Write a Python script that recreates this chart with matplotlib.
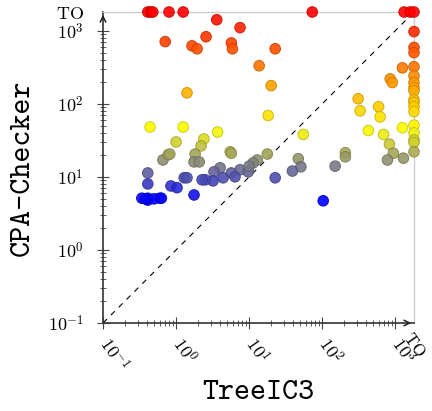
import numpy as np
import matplotlib
matplotlib.use("Agg")
import matplotlib.pyplot as plt
from matplotlib.colors import LinearSegmentedColormap, LogNorm

plt.rcParams['mathtext.fontset'] = 'cm'

TO = 1800.0

# TreeIC3 runtime (x) and CPA-Checker runtime (y); TO = timeout
treeic3 = [
    # timeouts of CPA-Checker
    0.41, 0.45, 0.48, 0.80, 1.25, 73, 1320, 1600, TO,
    # high (red/orange)
    0.71, 1.65, 1.94, 2.57, 3.6, 7.5, 5.7, 5.9, 22.7, 13.7, 20, 1.41,
    1250, 850, 910, 310, 330, 590, 620,
    # timeouts of TreeIC3
    TO, TO, TO, TO, TO, TO, TO, TO, TO, TO, TO, TO, TO, TO, TO, TO, TO,
    # yellow
    0.44, 1.25, 1.0, 2.4, 2.2, 3.7, 18.2, 55, 427, 690, 1250, 830,
    # olive
    0.66, 0.78, 0.82, 1.82, 1.76, 2.07, 5.5, 5.7, 17.7, 12.9, 11.3, 47, 51,
    207, 207, 940, 780, 1290, 150,
    # gray / slate
    0.41, 4.0, 3.3, 7.5, 9.7, 10, 39, 5.7, 6.4, 4.4, 3.2, 22.7, 2.5, 2.27,
    1.29, 1.41,
    # blue
    0.41, 0.85, 1.03, 1.76, 0.34, 0.41, 0.41, 0.60, 0.50, 0.38, 0.63, 103,
]
cpachecker = [
    TO, TO, TO, TO, TO, TO, TO, TO, TO,
    708, 620, 565, 825, 1410, 1100, 680, 565, 565, 331, 177, 141,
    310, 219, 195, 117, 80, 91, 66,
    970, 590, 500, 321, 240, 195, 166, 150, 113, 104, 91, 78, 51, 40, 32, 29.5, 22,
    48, 48, 30, 33, 26.5, 41, 69, 38, 43, 38, 47, 28,
    17, 20, 20.5, 20.5, 16, 16, 22, 21, 20.5, 17, 15.5, 17.7, 13.7,
    21.4, 18.8, 21, 17, 18, 14,
    11.3, 13.3, 11.7, 12.5, 11.7, 14, 12, 11.3, 10, 9.7, 8.8, 9.7, 9.1, 9.1,
    9.7, 9.7,
    8.0, 7.5, 7.1, 5.65, 5.1, 5.1, 4.8, 5.1, 5.0, 5.0, 5.1, 4.7,
]

x_ticks = [0.1, 1, 10, 100, 1000, TO]
x_tick_labels = [r'$10^{-1}$', r'$10^{0}$', r'$10^{1}$', r'$10^{2}$', r'$10^{3}$', '']
x_to_label = r'$\mathrm{TO}$'
y_ticks = [0.1, 1, 10, 100, 1000, TO]
y_tick_labels = [r'$10^{-1}$', r'$10^{0}$', r'$10^{1}$', r'$10^{2}$', r'$10^{3}$', r'$\mathrm{TO}$']

x = np.array(treeic3)
y = np.array(cpachecker)

# colormap blue -> yellow -> red in log scale of y
lo, mid, hi = np.log10(4.8), np.log10(45), np.log10(TO)
f = (mid - lo) / (hi - lo)
cmap = LinearSegmentedColormap.from_list(
    'byr', [(0, (0, 0, 1)), (f, (1, 1, 0)), (1, (1, 0, 0))])
norm = LogNorm(vmin=4.8, vmax=TO)
cols = cmap(norm(y))
edges = cols.copy()
edges[:, :3] *= 0.8

fig = plt.figure(figsize=(4.32, 4.11), dpi=100)
ax = fig.add_axes([103/432, 1 - 323/411, 311/432, 311/411])
ax.set_xscale('log')
ax.set_yscale('log')
ax.set_xlim(0.1, TO)
ax.set_ylim(0.1, TO)

ax.plot([0.1, TO], [0.1, TO], color='black', lw=0.8, ls=(0, (5, 5)), zorder=1)
ax.scatter(x, y, s=58, c=cols, edgecolors=edges, linewidths=0.7, alpha=0.9, zorder=3,
           clip_on=False)

for side in ['top', 'right']:
    ax.spines[side].set_color('#cccccc')
    ax.spines[side].set_linewidth(1.0)
for side in ['left', 'bottom']:
    ax.spines[side].set_color('#333333')
    ax.spines[side].set_linewidth(1.2)

ax.set_xticks(x_ticks, labels=x_tick_labels)
ax.set_yticks(y_ticks, labels=y_tick_labels)
ax.xaxis.set_minor_locator(matplotlib.ticker.LogLocator(base=10, subs=np.arange(2, 10)))
ax.yaxis.set_minor_locator(matplotlib.ticker.LogLocator(base=10, subs=np.arange(2, 10)))
ax.xaxis.set_minor_formatter(matplotlib.ticker.NullFormatter())
ax.yaxis.set_minor_formatter(matplotlib.ticker.NullFormatter())
ax.tick_params(which='major', direction='inout', length=8, width=0.8, color='#444444',
               labelsize=13, top=False, right=False)
ax.tick_params(which='minor', direction='inout', length=5, width=0.6, color='#444444',
               top=False, right=False)
ax.tick_params(axis='y', which='major', pad=10)
ax.tick_params(axis='x', which='major', pad=8)
for lbl in ax.get_xticklabels():
    lbl.set_rotation(-55)
    lbl.set_rotation_mode('anchor')
    lbl.set_ha('left')
    lbl.set_va('center')
# hide tick marks at TO
ax.xaxis.get_major_ticks()[-1].tick1line.set_visible(False)
ax.yaxis.get_major_ticks()[-1].tick1line.set_visible(False)

# TO label on the x axis, nudged to stay inside the figure
ax.annotate(x_to_label, xy=(TO, 0.1), xycoords='data', xytext=(-5, -8),
            textcoords='offset points', fontsize=12, rotation=-55,
            rotation_mode='anchor', ha='left', va='center', annotation_clip=False)

# arrows at axis ends
ax.annotate('', xy=(1.0, 0), xytext=(0.97, 0), xycoords='axes fraction',
            arrowprops=dict(arrowstyle='->', color='#222222', lw=1.1, mutation_scale=10))
ax.annotate('', xy=(0, 1.0), xytext=(0, 0.97), xycoords='axes fraction',
            arrowprops=dict(arrowstyle='->', color='#222222', lw=1.1, mutation_scale=10))

fig.text(258/432, 1 - 393/411, 'TreeIC3', family='cmtt10', fontsize=22,
         ha='center', va='center')
fig.text(23/432, 1 - 168/411, 'CPA-Checker', family='cmtt10', fontsize=22,
         ha='center', va='center', rotation=90)

fig.savefig('out.png', dpi=100)
